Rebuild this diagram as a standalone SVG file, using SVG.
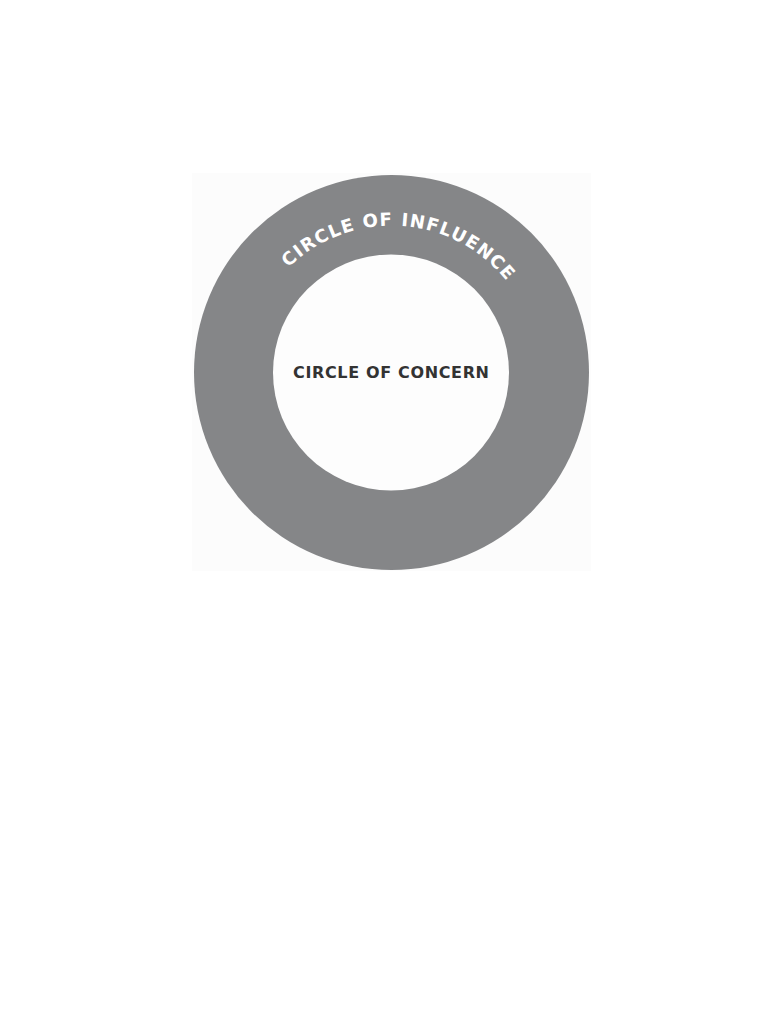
<svg xmlns="http://www.w3.org/2000/svg" xmlns:xlink="http://www.w3.org/1999/xlink" width="782" height="1012" viewBox="0 0 782 1012">
  <defs>
    <path id="arcInfluence" d="M 288.5 267.7 A 147 147 0 0 1 506.5 281.0"/>
    <style>
      .lbl { font-family: "DejaVu Sans", Inter, sans-serif; font-weight: bold; }
    </style>
  </defs>
  <rect x="0" y="0" width="782" height="1012" fill="#ffffff"/>
  <rect x="192" y="173" width="399" height="398" fill="#fcfcfc"/>
  <g id="circle-of-influence">
    <circle cx="391.5" cy="372.5" r="197.5" fill="#858688"/>
    <text class="lbl" font-size="18" fill="#ffffff">
      <textPath xlink:href="#arcInfluence" href="#arcInfluence" textLength="246" lengthAdjust="spacing">CIRCLE OF INFLUENCE</textPath>
    </text>
  </g>
  <g id="circle-of-concern">
    <circle cx="391" cy="372.5" r="118" fill="#fdfdfd"/>
    <text class="lbl" x="293" y="378.3" font-size="16" fill="#333333" textLength="196" lengthAdjust="spacing">CIRCLE OF CONCERN</text>
  </g>
  <g id="connectors"/>
</svg>
